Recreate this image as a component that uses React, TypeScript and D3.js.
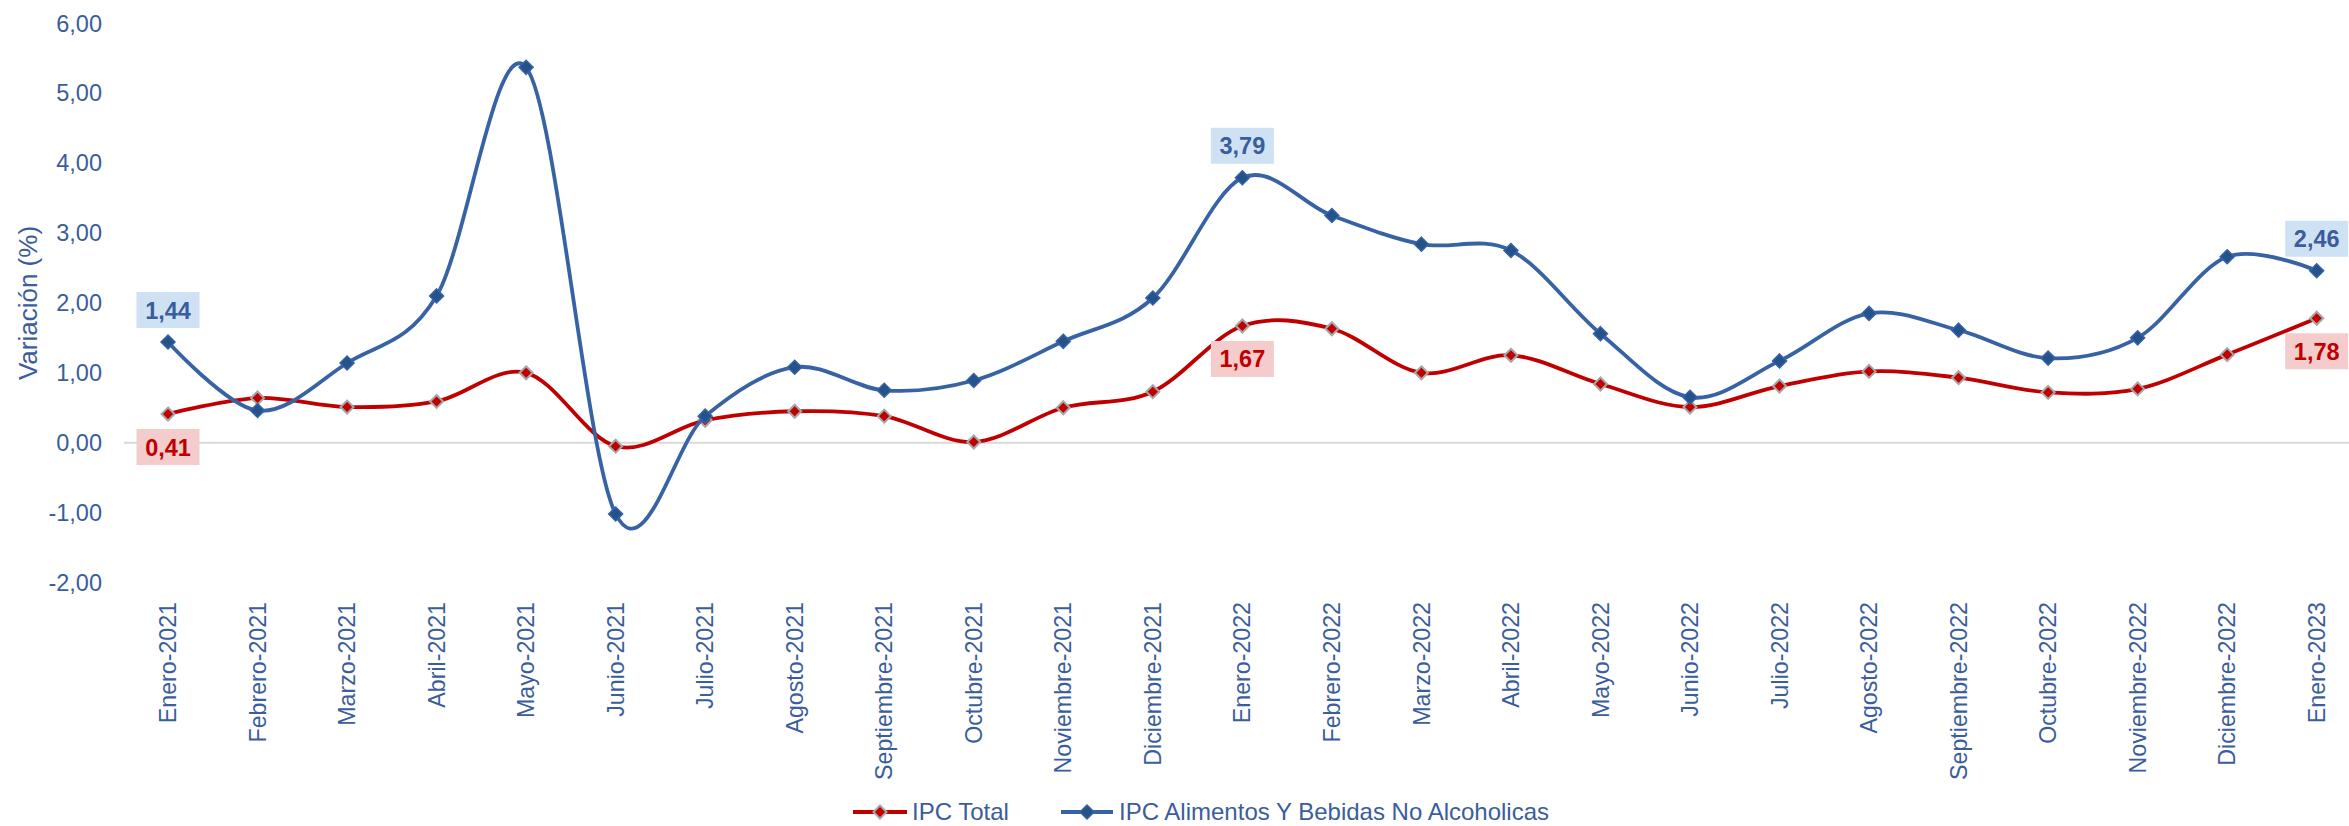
import React from "react";
import * as d3 from "d3";

const categories = [
  "Enero-2021", "Febrero-2021", "Marzo-2021", "Abril-2021", "Mayo-2021", "Junio-2021",
  "Julio-2021", "Agosto-2021", "Septiembre-2021", "Octubre-2021", "Noviembre-2021", "Diciembre-2021",
  "Enero-2022", "Febrero-2022", "Marzo-2022", "Abril-2022", "Mayo-2022", "Junio-2022",
  "Julio-2022", "Agosto-2022", "Septiembre-2022", "Octubre-2022", "Noviembre-2022", "Diciembre-2022",
  "Enero-2023",
];

const ipcTotal = [
  0.41, 0.64, 0.51, 0.59, 1.0, -0.05, 0.32, 0.45, 0.38, 0.01, 0.5, 0.73,
  1.67, 1.63, 1.0, 1.25, 0.84, 0.51, 0.81, 1.02, 0.93, 0.72, 0.77, 1.26,
  1.78,
];

const ipcAlimentos = [
  1.44, 0.46, 1.14, 2.1, 5.37, -1.02, 0.38, 1.08, 0.75, 0.89, 1.45, 2.07,
  3.79, 3.25, 2.84, 2.75, 1.56, 0.65, 1.17, 1.85, 1.61, 1.21, 1.5, 2.66,
  2.46,
];

const yTicks = [-2, -1, 0, 1, 2, 3, 4, 5, 6];
const labeledIdx = [0, 12, 24];

const seriesNames = ["IPC Total", "IPC Alimentos Y Bebidas No Alcoholicas"];

const W = 2349;
const H = 826;
const FONT = "'Liberation Sans', Arial, sans-serif";
const AXIS_COLOR = "#3A5D9C";
const BLUE = "#3762A4";
const BLUE_MARK = "#24528B";
const RED = "#C00000";

const fmt = (v: number) => v.toFixed(2).replace(".", ",");

function Diamond({ x, y, r, fill, stroke, sw }: { x: number; y: number; r: number; fill: string; stroke: string; sw: number }) {
  const d = `M${x},${y - r}L${x + r},${y}L${x},${y + r}L${x - r},${y}Z`;
  return <path d={d} fill={fill} stroke={stroke} strokeWidth={sw} />;
}

export default function App() {
  const x = d3.scalePoint<string>().domain(categories).range([168, 2316.7]);
  const y = d3.scaleLinear().domain([-2, 6]).range([582.5, 23.3]);

  const line = d3
    .line<number>()
    .x((_, i) => x(categories[i]) as number)
    .y((d) => y(d))
    .curve(d3.curveCardinal.tension(0));

  return (
    <svg
      width={W}
      height={H}
      style={{ position: "absolute", left: 0, top: 0, background: "#fff" }}
      fontFamily={FONT}
    >
      {/* zero line */}
      <line x1={124} x2={W} y1={y(0)} y2={y(0)} stroke="#D9D9D9" strokeWidth={2} />

      {/* y ticks */}
      {yTicks.map((t) => (
        <text key={t} x={102} y={y(t)} dy="0.35em" textAnchor="end" fontSize={23.5} fill={AXIS_COLOR}>
          {fmt(t)}
        </text>
      ))}

      {/* y title */}
      <text
        transform={`translate(28,303) rotate(-90)`}
        textAnchor="middle"
        dy="0.35em"
        fontSize={26}
        fill={AXIS_COLOR}
      >
        Variación (%)
      </text>

      {/* x labels */}
      {categories.map((c) => (
        <text
          key={c}
          transform={`translate(${x(c)},602) rotate(-90)`}
          textAnchor="end"
          dy="0.35em"
          fontSize={23.2}
          fill={AXIS_COLOR}
        >
          {c}
        </text>
      ))}

      {/* red series */}
      <path d={line(ipcTotal) || ""} fill="none" stroke={RED} strokeWidth={3.8} />
      {ipcTotal.map((v, i) => (
        <Diamond key={"r" + i} x={x(categories[i]) as number} y={y(v)} r={6.5} fill={RED} stroke="#A6A6A6" sw={2} />
      ))}

      {/* blue series */}
      <path d={line(ipcAlimentos) || ""} fill="none" stroke={BLUE} strokeWidth={3.8} />
      {ipcAlimentos.map((v, i) => (
        <Diamond key={"b" + i} x={x(categories[i]) as number} y={y(v)} r={7} fill={BLUE_MARK} stroke={BLUE} sw={1.5} />
      ))}

      {/* data labels */}
      {labeledIdx.map((i) => {
        const cx = x(categories[i]) as number;
        const by = y(ipcAlimentos[i]) - 32;
        const ry = y(ipcTotal[i]) + 33;
        return (
          <g key={"l" + i}>
            <rect x={cx - 31.5} y={by - 18} width={63} height={36} fill="#CFE2F3" />
            <text x={cx} y={by} dy="0.36em" textAnchor="middle" fontSize={23.5} fontWeight="bold" fill={AXIS_COLOR}>
              {fmt(ipcAlimentos[i])}
            </text>
            <rect x={cx - 31.5} y={ry - 18} width={63} height={36} fill="#F4CCCC" />
            <text x={cx} y={ry} dy="0.36em" textAnchor="middle" fontSize={23.5} fontWeight="bold" fill={RED}>
              {fmt(ipcTotal[i])}
            </text>
          </g>
        );
      })}

      {/* legend */}
      <g>
        <line x1={853} x2={907} y1={812} y2={812} stroke={RED} strokeWidth={3.8} />
        <Diamond x={880} y={812} r={6.5} fill={RED} stroke="#A6A6A6" sw={2} />
        <text x={912} y={812} dy="0.35em" fontSize={24} fill={AXIS_COLOR}>
          {seriesNames[0]}
        </text>
        <line x1={1061} x2={1113} y1={812} y2={812} stroke={BLUE} strokeWidth={3.8} />
        <Diamond x={1087} y={812} r={7} fill={BLUE_MARK} stroke={BLUE} sw={1.5} />
        <text x={1119} y={812} dy="0.35em" fontSize={24} fill={AXIS_COLOR}>
          {seriesNames[1]}
        </text>
      </g>
    </svg>
  );
}
